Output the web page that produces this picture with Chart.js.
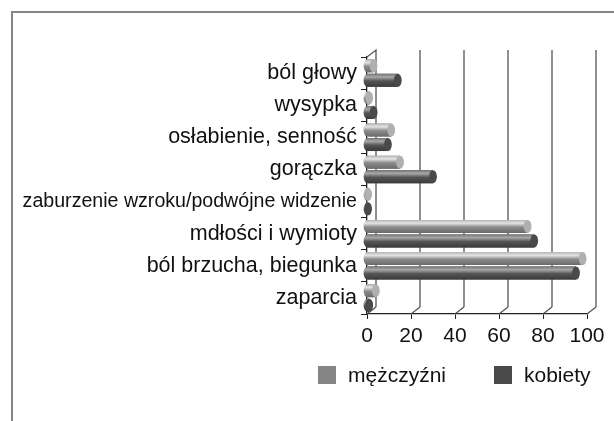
<!DOCTYPE html>
<html>
<head>
<meta charset="utf-8">
<script src="https://cdn.jsdelivr.net/npm/chart.js@4/dist/chart.umd.min.js"></script>
<style>
  body { margin: 0; background: #fff; }
  #wrap { position: relative; width: 614px; height: 421px; overflow: hidden; }
  #frame { position: absolute; left: 11px; top: 11px; width: 700px; height: 500px; border: 2px solid #858585; box-sizing: border-box; }
  canvas { position: absolute; left: 0; top: 0; }
  .leg { position: absolute; top: 363px; font: 21px "Liberation Sans", Arial, sans-serif; color: #111; }
  .leg span { display: inline-block; width: 18px; height: 18px; vertical-align: -2px; margin-right: 12px; }
</style>
</head>
<body>
<div id="wrap">
  <div id="frame"></div>
  <canvas id="chart" width="614" height="421"></canvas>
  <div class="leg" id="leg0" style="left:318px"></div>
  <div class="leg" id="leg1" style="left:494px"></div>
</div>
<script>
// categories and values (percent)
const categories = [
  'ból głowy',
  'wysypka',
  'osłabienie, senność',
  'gorączka',
  'zaburzenie wzroku/podwójne widzenie',
  'mdłości i wymioty',
  'ból brzucha, biegunka',
  'zaparcia'
];
const men = [3, 1, 11, 15, 0.5, 73, 98, 4];
const women = [14, 3, 9.5, 30, 0.5, 76, 95, 1];
const xTicks = [0, 20, 40, 60, 80, 100];

const DX = 9, DY = 7; // depth of the fake 3D box

// back wall gridlines + little diagonals
const depthGrid = {
  id: 'depthGrid',
  beforeDatasetsDraw(chart) {
    const c = chart.ctx, x = chart.scales.x, area = chart.chartArea;
    c.save();
    c.strokeStyle = '#555';
    c.lineWidth = 1.3;
    xTicks.forEach(v => {
      const px = x.getPixelForValue(v);
      c.beginPath();
      if (v > 0) {
        c.moveTo(px + DX, area.top - DY);
        c.lineTo(px + DX, area.bottom - DY);
      }
      c.moveTo(px, area.bottom);
      c.lineTo(px + DX, area.bottom - DY);
      c.stroke();
    });
    c.beginPath();
    c.moveTo(area.left, area.top);
    c.lineTo(area.left + DX, area.top - DY);
    c.lineTo(area.left + DX, area.bottom - DY);
    c.stroke();
    c.restore();
  }
};

// shade the flat bars as cylinders
const cylinders = {
  id: 'cylinders',
  afterDatasetsDraw(chart) {
    const c = chart.ctx;
    const shades = [
      ['#e4e4e4', '#b4b4b4', '#8a8a8a', '#6a6a6a', '#b0b0b0'],
      ['#a8a8a8', '#747474', '#555555', '#3a3a3a', '#4a4a4a']
    ];
    chart.data.datasets.forEach((ds, i) => {
      const s = shades[i];
      chart.getDatasetMeta(i).data.forEach(el => {
        const h = el.height, top = el.y - h / 2, rx = h * 0.3;
        const g = c.createLinearGradient(0, top, 0, top + h);
        g.addColorStop(0, s[1]);
        g.addColorStop(0.25, s[0]);
        g.addColorStop(0.55, s[2]);
        g.addColorStop(1, s[3]);
        c.save();
        c.fillStyle = g;
        c.beginPath();
        c.ellipse(el.base, el.y, rx, h / 2, 0, Math.PI / 2, Math.PI * 1.5);
        c.lineTo(el.x, top);
        c.lineTo(el.x, top + h);
        c.closePath();
        c.fill();
        c.fillStyle = s[4];
        c.beginPath();
        c.ellipse(el.x, el.y, rx, h / 2, 0, 0, Math.PI * 2);
        c.fill();
        c.restore();
      });
    });
  }
};

const family = '"Liberation Sans", Arial, sans-serif';
const font = { family, size: 21 };

const chart = new Chart(document.getElementById('chart'), {
  type: 'bar',
  data: {
    labels: categories,
    datasets: [
      { label: 'mężczyźni', data: men, backgroundColor: '#858585' },
      { label: 'kobiety', data: women, backgroundColor: '#4a4a4a' }
    ]
  },
  options: {
    indexAxis: 'y',
    responsive: false,
    animation: false,
    layout: { padding: { top: 57, right: 27, bottom: 0, left: 0 } },
    datasets: { bar: { categoryPercentage: 0.9, barPercentage: 0.9 } },
    plugins: { legend: { display: false }, tooltip: { enabled: false } },
    scales: {
      x: {
        min: 0, max: 100,
        afterBuildTicks(scale) { scale.ticks = xTicks.map(v => ({ value: v })); },
        afterFit(scale) { scale.height = 107; },
        grid: { drawOnChartArea: false, tickLength: 5, color: '#222' },
        border: { color: '#222', width: 1.3 },
        ticks: { color: '#111', font, padding: 5 }
      },
      y: {
        afterFit(scale) { scale.width = 367; },
        grid: { drawOnChartArea: false, tickLength: 6, color: '#222' },
        border: { color: '#222', width: 1.3 },
        ticks: {
          color: '#111',
          padding: 4,
          font: ctx => ({ family, size: categories[ctx.index] && categories[ctx.index].length > 30 ? 19.6 : 21.5 })
        }
      }
    }
  },
  plugins: [depthGrid, cylinders]
});

// legend as html, built from the datasets
chart.data.datasets.forEach((ds, i) => {
  const el = document.getElementById('leg' + i);
  el.innerHTML = '<span style="background:' + ds.backgroundColor + '"></span>' + ds.label;
});
</script>
</body>
</html>
